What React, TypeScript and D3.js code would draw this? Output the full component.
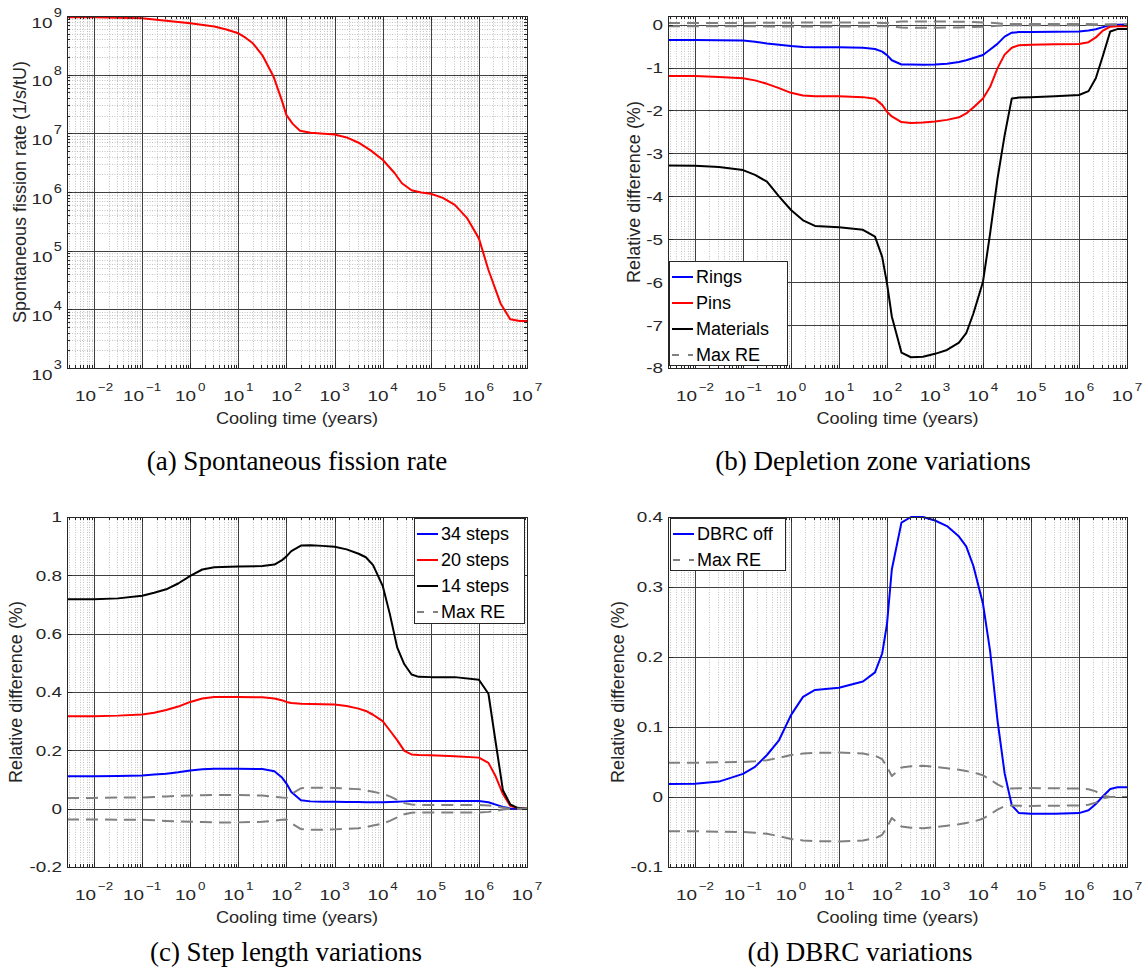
import React from 'react';
import * as d3 from 'd3';

// cooling time grid (years) for panel (a)
const yearsA = [0.00274, 0.01, 0.1, 0.316, 1, 3.16, 5.62, 10, 14.1, 20, 31.6, 53.7, 79.4, 100, 135, 191, 316, 1000, 1780, 3160, 5620, 1e4, 1.78e4, 2.51e4, 3.98e4, 6.31e4, 1e5, 1.78e5, 3.16e5, 5.62e5, 1e6, 1.58e6, 2.82e6, 4.47e6, 7.08e6, 1e7];
// (a) spontaneous fission rate (1/s/tU)
const fissionRate = [9.55e8, 9.5e8, 9.12e8, 8.32e8, 7.5e8, 6.61e8, 5.89e8, 5.07e8, 4.27e8, 3.43e8, 2.14e8, 9.33e7, 3.72e7, 2.04e7, 1.45e7, 1.11e7, 1.02e7, 9.55e6, 8.51e6, 6.92e6, 5.13e6, 3.55e6, 2.09e6, 1.41e6, 1.07e6, 9.77e5, 9.33e5, 7.94e5, 6.03e5, 3.63e5, 1.62e5, 4.68e4, 1.26e4, 6.76e3, 6.31e3, 6.31e3];

// cooling time grid (years) for panels (b)-(d)
const years = [0.00274, 0.01, 0.0316, 0.1, 0.178, 0.316, 0.562, 1, 1.78, 3.16, 10, 31.6, 56.2, 79.4, 100, 126, 200, 316, 562, 1000, 1780, 3160, 4470, 6310, 1e4, 1.41e4, 2e4, 2.82e4, 3.98e4, 5.62e4, 1e5, 3.16e5, 1e6, 1.58e6, 2.24e6, 3.16e6, 4.47e6, 6.31e6, 1e7];

// (b) depletion zone variations (%)
const rings = [-0.36, -0.36, -0.365, -0.37, -0.4, -0.44, -0.47, -0.5, -0.52, -0.53, -0.53, -0.54, -0.57, -0.63, -0.71, -0.83, -0.93, -0.93, -0.935, -0.93, -0.91, -0.87, -0.83, -0.78, -0.71, -0.58, -0.45, -0.28, -0.19, -0.175, -0.17, -0.165, -0.16, -0.14, -0.11, -0.06, -0.01, -0.005, 0];
const pins = [-1.2, -1.2, -1.22, -1.25, -1.3, -1.38, -1.48, -1.59, -1.65, -1.67, -1.67, -1.69, -1.73, -1.87, -2.03, -2.14, -2.27, -2.29, -2.28, -2.26, -2.22, -2.16, -2.07, -1.93, -1.72, -1.45, -1.02, -0.7, -0.54, -0.48, -0.47, -0.46, -0.45, -0.41, -0.3, -0.14, -0.05, -0.04, -0.04];
const materials = [-3.28, -3.29, -3.32, -3.39, -3.5, -3.66, -4.0, -4.32, -4.56, -4.69, -4.72, -4.78, -4.94, -5.41, -6.03, -6.8, -7.64, -7.75, -7.74, -7.67, -7.58, -7.41, -7.19, -6.73, -5.99, -4.86, -3.6, -2.58, -1.72, -1.7, -1.69, -1.67, -1.64, -1.55, -1.25, -0.72, -0.16, -0.105, -0.1];

// max relative error envelope used in (b) and (c)
const maxReUp = [0.037, 0.037, 0.038, 0.038, 0.04, 0.042, 0.044, 0.045, 0.046, 0.047, 0.047, 0.045, 0.041, 0.038, 0.037, 0.05, 0.07, 0.072, 0.072, 0.071, 0.069, 0.067, 0.063, 0.058, 0.051, 0.042, 0.03, 0.019, 0.014, 0.013, 0.013, 0.013, 0.013, 0.011, 0.008, 0.003, 0, 0, 0];
const maxReLow = [-0.037, -0.037, -0.038, -0.038, -0.04, -0.042, -0.044, -0.045, -0.046, -0.047, -0.047, -0.045, -0.041, -0.038, -0.037, -0.05, -0.07, -0.072, -0.072, -0.071, -0.069, -0.067, -0.063, -0.058, -0.051, -0.042, -0.03, -0.019, -0.014, -0.013, -0.013, -0.013, -0.013, -0.011, -0.008, -0.003, 0, 0, 0];

// (c) step length variations (%)
const steps34 = [0.111, 0.111, 0.112, 0.114, 0.117, 0.12, 0.125, 0.131, 0.135, 0.137, 0.137, 0.136, 0.128, 0.108, 0.086, 0.057, 0.029, 0.025, 0.024, 0.024, 0.023, 0.023, 0.022, 0.022, 0.022, 0.023, 0.024, 0.025, 0.026, 0.026, 0.026, 0.026, 0.026, 0.022, 0.014, 0.006, 0.001, 0, 0];
const steps20 = [0.317, 0.317, 0.319, 0.323, 0.329, 0.338, 0.35, 0.366, 0.378, 0.383, 0.383, 0.382, 0.378, 0.372, 0.366, 0.362, 0.36, 0.359, 0.358, 0.357, 0.352, 0.343, 0.335, 0.322, 0.3, 0.268, 0.235, 0.198, 0.186, 0.184, 0.183, 0.18, 0.175, 0.157, 0.11, 0.05, 0.01, 0.002, 0];
const steps14 = [0.718, 0.718, 0.721, 0.73, 0.74, 0.752, 0.772, 0.798, 0.82, 0.828, 0.83, 0.832, 0.837, 0.851, 0.865, 0.883, 0.902, 0.903, 0.901, 0.898, 0.889, 0.874, 0.862, 0.835, 0.764, 0.667, 0.553, 0.495, 0.46, 0.452, 0.451, 0.451, 0.442, 0.394, 0.226, 0.063, 0.015, 0.003, 0];

// (d) DBRC variations (%)
const dbrcOff = [0.0185, 0.019, 0.022, 0.033, 0.043, 0.06, 0.081, 0.117, 0.143, 0.153, 0.156, 0.165, 0.178, 0.205, 0.247, 0.325, 0.392, 0.4, 0.4, 0.395, 0.387, 0.372, 0.358, 0.33, 0.276, 0.208, 0.11, 0.034, -0.012, -0.023, -0.024, -0.024, -0.023, -0.019, -0.01, 0.001, 0.0115, 0.014, 0.014];
const maxReUpD = [0.0488, 0.049, 0.0495, 0.05, 0.051, 0.0526, 0.056, 0.06, 0.062, 0.063, 0.0635, 0.062, 0.059, 0.054, 0.043, 0.03, 0.042, 0.044, 0.0445, 0.043, 0.041, 0.039, 0.037, 0.035, 0.031, 0.025, 0.018, 0.013, 0.012, 0.0125, 0.0128, 0.0125, 0.012, 0.011, 0.008, 0.002, 0, 0, 0];
const maxReLowD = [-0.0488, -0.049, -0.0495, -0.05, -0.051, -0.0526, -0.056, -0.06, -0.062, -0.063, -0.0635, -0.062, -0.059, -0.054, -0.043, -0.03, -0.042, -0.044, -0.0445, -0.043, -0.041, -0.039, -0.037, -0.035, -0.031, -0.025, -0.018, -0.013, -0.012, -0.0125, -0.0128, -0.0125, -0.012, -0.011, -0.008, -0.002, 0, 0, 0];

// ticks
const xTickExps = [-2, -1, 0, 1, 2, 3, 4, 5, 6, 7];
const yTickExpsA = [3, 4, 5, 6, 7, 8, 9];
const yTicksB = [0, -1, -2, -3, -4, -5, -6, -7, -8];
const yTicksC = [-0.2, 0, 0.2, 0.4, 0.6, 0.8, 1];
const yTicksD = [-0.1, 0, 0.1, 0.2, 0.3, 0.4];

const xMin = 1 / 365;
const xMax = 1e7;

const SANS = "'Liberation Sans', Arial, Helvetica, sans-serif";
const SERIF = "'Liberation Serif', 'Times New Roman', serif";
const INK = '#262626';
const GRID = '#404040';
const MINOR = '#c4c4c4';
const GRAY = '#808080';
const TICK_FS = 15.5;
const SUP_FS = 11;
const TICK_SX = 1.22; // tick text in the picture is drawn wider than normal

const cr = (v: number) => Math.round(v) + 0.5;
const supText = (e: number) => (e < 0 ? '\u2212' + String(-e) : String(e));

type Series = { x: number[]; values: number[]; color: string; dashed?: boolean };
type LegendItem = { label: string; color: string; dashed?: boolean };
type Legend = { x: number; y: number; w: number; h: number; items: LegendItem[] };

function Panel(props: {
  id: string; left: number; top: number; width: number; height: number;
  logY?: boolean; yDomain: [number, number]; yTicks: number[];
  series: Series[]; yLabel: string; yLabelX: number; legend?: Legend;
  caption: string; captionX: number; captionY: number;
}) {
  const { id, left, top, width, height, logY, yDomain, yTicks, series, yLabel, yLabelX, legend, caption, captionX, captionY } = props;
  const bottom = top + height;
  const right = left + width;

  const x = d3.scaleLog().domain([xMin, xMax]).range([left, right]);
  const y = logY
    ? d3.scaleLog().domain(yDomain).range([bottom, top])
    : d3.scaleLinear().domain(yDomain).range([bottom, top]);

  // minor positions on log x
  const minorX: number[] = [];
  for (let e = -3; e < 7; e++) {
    for (let k = 2; k <= 9; k++) {
      const v = k * Math.pow(10, e);
      if (v > xMin && v < xMax) minorX.push(v);
    }
  }
  const minorY: number[] = [];
  if (logY) {
    for (let e = 3; e < 9; e++) for (let k = 2; k <= 9; k++) minorY.push(k * Math.pow(10, e));
  }
  const majorY = logY ? yTicks.map(e => Math.pow(10, e)) : yTicks;

  return (
    <g>
      <defs>
        <clipPath id={`clip-${id}`}>
          <rect x={left} y={top - 1} width={width} height={height + 2} />
        </clipPath>
      </defs>
      <rect x={left} y={top} width={width} height={height} fill="#fff" />

      {/* minor grid */}
      {minorX.map((v, i) => (
        <line key={`mx${i}`} x1={cr(x(v))} x2={cr(x(v))} y1={top} y2={bottom}
          stroke={MINOR} strokeWidth={1} strokeDasharray="1,1.5" />
      ))}
      {minorY.map((v, i) => (
        <line key={`my${i}`} x1={left} x2={right} y1={cr(y(v))} y2={cr(y(v))}
          stroke={MINOR} strokeWidth={1} strokeDasharray="1,1.5" />
      ))}

      {/* major grid */}
      {xTickExps.map(e => (
        <line key={`gx${e}`} x1={cr(x(Math.pow(10, e)))} x2={cr(x(Math.pow(10, e)))} y1={top} y2={bottom}
          stroke={GRID} strokeWidth={1} />
      ))}
      {majorY.map((v, i) => (
        <line key={`gy${i}`} x1={left} x2={right} y1={cr(y(v))} y2={cr(y(v))}
          stroke={GRID} strokeWidth={1} />
      ))}

      {/* data */}
      <g clipPath={`url(#clip-${id})`}>
        {series.map((s, i) => {
          const line = d3.line<number>()
            .x((_, j) => x(s.x[j]))
            .y(d => y(d));
          return (
            <path key={`s${i}`} d={line(s.values) || ''} fill="none" stroke={s.color}
              strokeWidth={2} strokeDasharray={s.dashed ? '12,7' : undefined} strokeLinejoin="round" />
          );
        })}
      </g>

      {/* ticks */}
      {xTickExps.map(e => {
        const px = cr(x(Math.pow(10, e)));
        return (
          <g key={`tx${e}`}>
            <line x1={px} x2={px} y1={bottom} y2={bottom - 5} stroke={INK} />
            <line x1={px} x2={px} y1={top} y2={top + 5} stroke={INK} />
          </g>
        );
      })}
      {minorX.map((v, i) => {
        const px = cr(x(v));
        return (
          <g key={`tmx${i}`}>
            <line x1={px} x2={px} y1={bottom} y2={bottom - 3} stroke={INK} />
            <line x1={px} x2={px} y1={top} y2={top + 3} stroke={INK} />
          </g>
        );
      })}
      {majorY.map((v, i) => {
        const py = cr(y(v));
        return (
          <g key={`ty${i}`}>
            <line x1={left} x2={left + 5} y1={py} y2={py} stroke={INK} />
            <line x1={right} x2={right - 5} y1={py} y2={py} stroke={INK} />
          </g>
        );
      })}
      {minorY.map((v, i) => {
        const py = cr(y(v));
        return (
          <g key={`tmy${i}`}>
            <line x1={left} x2={left + 3} y1={py} y2={py} stroke={INK} />
            <line x1={right} x2={right - 3} y1={py} y2={py} stroke={INK} />
          </g>
        );
      })}

      {/* box */}
      <rect x={cr(left)} y={cr(top)} width={Math.round(width)} height={Math.round(height)}
        fill="none" stroke={INK} strokeWidth={1} />

      {/* x tick labels */}
      {xTickExps.map(e => (
        <text key={`lx${e}`} transform={`translate(${x(Math.pow(10, e))},${bottom + 33}) scale(${TICK_SX},1)`}
          textAnchor="middle" fontFamily={SANS} fontSize={TICK_FS} fill={INK}>
          <tspan>10</tspan>
          <tspan dx={1.5} dy={-10} fontSize={SUP_FS}>{supText(e)}</tspan>
        </text>
      ))}

      {/* y tick labels */}
      {logY
        ? yTicks.map(e => (
          <text key={`ly${e}`} transform={`translate(${left - 5},${y(Math.pow(10, e)) + 11.5}) scale(${TICK_SX},1)`}
            textAnchor="end" fontFamily={SANS} fontSize={TICK_FS} fill={INK}>
            <tspan>10</tspan>
            <tspan dx={1} dy={-11} fontSize={SUP_FS + 1}>{supText(e)}</tspan>
          </text>
        ))
        : yTicks.map((v, i) => (
          <text key={`ly${i}`} transform={`translate(${left - 5},${y(v)}) scale(${TICK_SX},1)`} dy="0.35em"
            textAnchor="end" fontFamily={SANS} fontSize={TICK_FS} fill={INK}>{String(v)}</text>
        ))}

      {/* axis labels */}
      <text transform={`translate(${(left + right) / 2},${bottom + 56}) scale(1.1,1)`} textAnchor="middle"
        fontFamily={SANS} fontSize={16.5} fill={INK}>Cooling time (years)</text>
      <text transform={`translate(${yLabelX},${(top + bottom) / 2}) rotate(-90)`} dy="0.35em"
        textAnchor="middle" fontFamily={SANS} fontSize={18} fill={INK}>{yLabel}</text>

      {/* legend */}
      {legend && (
        <g>
          <rect x={cr(legend.x)} y={cr(legend.y)} width={legend.w} height={legend.h} fill="#fff" stroke={INK} strokeWidth={1} />
          {legend.items.map((it, i) => {
            const rowY = legend.y + 16 + i * 26;
            return (
              <g key={`lg${i}`}>
                <line x1={legend.x + 3} x2={legend.x + 24} y1={rowY} y2={rowY} stroke={it.color}
                  strokeWidth={2} strokeDasharray={it.dashed ? '7,9' : undefined} />
                <text x={legend.x + 27} y={rowY} dy="0.35em" fontFamily={SANS} fontSize={18} fill="#000">{it.label}</text>
              </g>
            );
          })}
        </g>
      )}

      {/* caption */}
      <text x={captionX} y={captionY} textAnchor="middle" fontFamily={SERIF} fontSize={27} fill="#000">{caption}</text>
    </g>
  );
}

const App = () => {
  return (
    <svg width={1148} height={976} style={{ position: 'absolute', left: 0, top: 0, background: '#fff' }}>
      <rect width={1148} height={976} fill="#fff" />
      <Panel id="a" left={67} top={16} width={460} height={352} logY yDomain={[1e3, 1e9]} yTicks={yTickExpsA}
        series={[{ x: yearsA, values: fissionRate, color: '#ff0000' }]}
        yLabel="Spontaneous fission rate (1/s/tU)" yLabelX={20}
        caption="(a) Spontaneous fission rate" captionX={297} captionY={470} />
      <Panel id="b" left={668} top={16} width={459} height={352} yDomain={[-8, 0.2]} yTicks={yTicksB}
        series={[
          { x: years, values: rings, color: '#0000ff' },
          { x: years, values: pins, color: '#ff0000' },
          { x: years, values: materials, color: '#000000' },
          { x: years, values: maxReUp, color: GRAY, dashed: true },
          { x: years, values: maxReLow, color: GRAY, dashed: true },
        ]}
        yLabel="Relative difference (%)" yLabelX={634}
        legend={{ x: 669, y: 261, w: 118, h: 104, items: [
          { label: 'Rings', color: '#0000ff' },
          { label: 'Pins', color: '#ff0000' },
          { label: 'Materials', color: '#000000' },
          { label: 'Max RE', color: GRAY, dashed: true },
        ] }}
        caption="(b) Depletion zone variations" captionX={873} captionY={470} />
      <Panel id="c" left={67} top={517} width={460} height={350} yDomain={[-0.2, 1]} yTicks={yTicksC}
        series={[
          { x: years, values: steps34, color: '#0000ff' },
          { x: years, values: steps20, color: '#ff0000' },
          { x: years, values: steps14, color: '#000000' },
          { x: years, values: maxReUp, color: GRAY, dashed: true },
          { x: years, values: maxReLow, color: GRAY, dashed: true },
        ]}
        yLabel="Relative difference (%)" yLabelX={16}
        legend={{ x: 414, y: 518, w: 110, h: 105, items: [
          { label: '34 steps', color: '#0000ff' },
          { label: '20 steps', color: '#ff0000' },
          { label: '14 steps', color: '#000000' },
          { label: 'Max RE', color: GRAY, dashed: true },
        ] }}
        caption="(c) Step length variations" captionX={286} captionY={961} />
      <Panel id="d" left={668} top={517} width={459} height={350} yDomain={[-0.1, 0.4]} yTicks={yTicksD}
        series={[
          { x: years, values: dbrcOff, color: '#0000ff' },
          { x: years, values: maxReUpD, color: GRAY, dashed: true },
          { x: years, values: maxReLowD, color: GRAY, dashed: true },
        ]}
        yLabel="Relative difference (%)" yLabelX={618}
        legend={{ x: 670, y: 518, w: 115, h: 52, items: [
          { label: 'DBRC off', color: '#0000ff' },
          { label: 'Max RE', color: GRAY, dashed: true },
        ] }}
        caption="(d) DBRC variations" captionX={860} captionY={961} />
    </svg>
  );
};

export default App;
